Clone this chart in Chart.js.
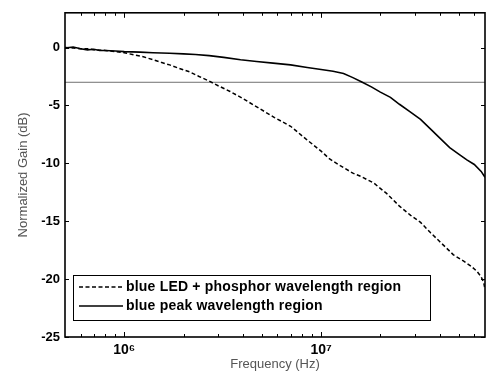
<!DOCTYPE html>
<html>
<head>
    <title>Normalized Gain</title>
    <script src="https://cdn.jsdelivr.net/npm/chart.js"></script>
    <style>
        html, body { margin: 0; padding: 0; background: #fff; }
        #wrap { width: 491px; height: 385px; }
    </style>
</head>
<body>
<div id="wrap"><canvas id="gain-chart" width="491" height="385"></canvas></div>

<script>
// blue LED + phosphor wavelength region (dashed)
const freqDashed = [5.0e5, 5.5e5, 6.0e5, 6.5e5, 7.0e5, 8.0e5, 9.0e5, 1.0e6, 1.1e6, 1.25e6, 1.4e6, 1.55e6, 1.7e6, 1.9e6,
    2.15e6, 2.4e6, 2.7e6, 3.0e6, 3.45e6, 4.0e6, 4.9e6, 5.8e6, 7.0e6, 8.3e6, 1.0e7, 1.1e7, 1.25e7, 1.45e7, 1.6e7,
    1.85e7, 2.15e7, 2.5e7, 2.85e7, 3.2e7, 3.6e7, 4.0e7, 4.7e7, 5.3e7, 5.8e7, 6.2e7, 6.5e7, 6.7e7, 6.8e7];
const gainDashed = [0.0, -0.05, -0.1, -0.1, -0.2, -0.25, -0.35, -0.45, -0.6, -0.8, -1.05, -1.3, -1.5, -1.8,
    -2.1, -2.5, -2.9, -3.3, -3.8, -4.4, -5.3, -6.05, -6.8, -7.85, -8.95, -9.6, -10.2, -10.85, -11.15,
    -11.7, -12.6, -13.7, -14.5, -15.1, -16.0, -16.75, -17.9, -18.45, -18.9, -19.35, -19.8, -20.3, -20.9];

// blue peak wavelength region (solid)
const freqSolid = [5.0e5, 5.5e5, 6.0e5, 6.5e5, 7.0e5, 7.5e5, 8.0e5, 9.0e5, 1.0e6, 1.2e6, 1.4e6, 1.7e6, 2.0e6, 2.3e6,
    2.7e6, 3.2e6, 3.9e6, 4.7e6, 5.7e6, 7.0e6, 8.5e6, 1.0e7, 1.15e7, 1.3e7, 1.45e7, 1.6e7, 1.8e7, 2.0e7, 2.25e7,
    2.5e7, 2.8e7, 3.2e7, 3.6e7, 4.0e7, 4.5e7, 5.0e7, 5.5e7, 6.0e7, 6.5e7, 6.8e7];
const gainSolid = [-0.05, 0.05, -0.1, -0.2, -0.15, -0.25, -0.25, -0.3, -0.35, -0.4, -0.45, -0.5, -0.55, -0.6,
    -0.7, -0.85, -1.05, -1.2, -1.35, -1.5, -1.72, -1.9, -2.05, -2.25, -2.6, -2.95, -3.4, -3.85, -4.3,
    -4.9, -5.5, -6.2, -7.05, -7.8, -8.65, -9.2, -9.7, -10.1, -10.7, -11.2];

// -3 dB reference line
const refFreq = [5.0e5, 6.8e7];
const refGain = [-3, -3];

const seriesLabels = ['blue LED + phosphor wavelength region', 'blue peak wavelength region'];
const xTickValues = [6e5, 7e5, 8e5, 9e5, 1e6, 2e6, 3e6, 4e6, 5e6, 6e6, 7e6, 8e6, 9e6, 1e7, 2e7, 3e7, 4e7, 5e7, 6e7];
const xMajorTicks = [1e6, 1e7];
const xLabels = { 1e6: '10\u2076', 1e7: '10\u2077' };
const yTickValues = [-25, -20, -15, -10, -5, 0];

const FONT = "'Liberation Sans', Arial, sans-serif";

function pairs(xs, ys) {
    return xs.map((x, i) => ({ x: x, y: ys[i] }));
}

// box around the plot with inward ticks on all four sides
const framePlugin = {
    id: 'frame',
    afterDraw(chart) {
        const ctx = chart.ctx;
        const a = chart.chartArea;
        const xs = chart.scales.x, ys = chart.scales.y;
        ctx.save();
        ctx.strokeStyle = '#000';
        ctx.lineWidth = 1;
        ctx.beginPath();
        xTickValues.forEach(v => {
            const px = Math.round(xs.getPixelForValue(v)) + 0.5;
            const len = xMajorTicks.includes(v) ? 5 : 3;
            ctx.moveTo(px, a.bottom); ctx.lineTo(px, a.bottom - len);
            ctx.moveTo(px, a.top); ctx.lineTo(px, a.top + len);
        });
        yTickValues.forEach(v => {
            const py = Math.round(ys.getPixelForValue(v)) + 0.5;
            ctx.moveTo(a.left, py); ctx.lineTo(a.left + 4, py);
            ctx.moveTo(a.right, py); ctx.lineTo(a.right - 4, py);
        });
        ctx.stroke();
        ctx.lineWidth = 1.6;
        ctx.strokeRect(a.left, a.top, a.right - a.left, a.bottom - a.top);
        ctx.restore();
    }
};

// legend box in the lower left corner of the plot
const legendPlugin = {
    id: 'boxLegend',
    afterDraw(chart) {
        const ctx = chart.ctx;
        const a = chart.chartArea;
        const left = a.left + 8, top = a.bottom - 62, w = 357, h = 45;
        ctx.save();
        ctx.fillStyle = '#fff';
        ctx.fillRect(left, top, w, h);
        ctx.strokeStyle = '#000';
        ctx.lineWidth = 1;
        ctx.strokeRect(left + 0.5, top + 0.5, w, h);
        ctx.font = 'bold 14px ' + FONT;
        ctx.letterSpacing = '0.2px';
        ctx.textBaseline = 'middle';
        ctx.fillStyle = '#000';
        [0, 1].forEach(i => {
            const ds = chart.data.datasets[i];
            const y = top + 12 + i * 19;
            ctx.setLineDash(ds.borderDash || []);
            ctx.lineWidth = 1.5;
            ctx.beginPath();
            ctx.moveTo(left + 6, y); ctx.lineTo(left + 50, y);
            ctx.stroke();
            ctx.setLineDash([]);
            ctx.fillText(ds.label, left + 53, y);
        });
        ctx.restore();
    }
};

new Chart(document.getElementById('gain-chart'), {
    type: 'line',
    data: {
        datasets: [
            {
                label: seriesLabels[0],
                data: pairs(freqDashed, gainDashed),
                borderColor: '#000',
                borderWidth: 1.5,
                borderDash: [4, 2.5],
                pointRadius: 0,
                tension: 0
            },
            {
                label: seriesLabels[1],
                data: pairs(freqSolid, gainSolid),
                borderColor: '#000',
                borderWidth: 1.6,
                pointRadius: 0,
                tension: 0
            },
            {
                label: '-3 dB',
                data: pairs(refFreq, refGain),
                borderColor: '#707070',
                borderWidth: 1,
                pointRadius: 0
            }
        ]
    },
    options: {
        responsive: false,
        animation: false,
        layout: { padding: { top: 7, right: 6, left: 0, bottom: 0 } },
        plugins: {
            legend: { display: false },
            tooltip: { enabled: false }
        },
        scales: {
            x: {
                type: 'logarithmic',
                min: 5e5,
                max: 6.8e7,
                grid: { display: false, drawTicks: false },
                border: { display: false },
                afterBuildTicks: s => { s.ticks = xTickValues.map(v => ({ value: v })); },
                afterFit: s => { s.height = 48; },
                ticks: {
                    autoSkip: false,
                    maxRotation: 0,
                    padding: 5,
                    color: '#000',
                    font: { family: FONT, size: 14, weight: 'bold' },
                    callback: v => xLabels[v] || ''
                },
                title: {
                    display: true,
                    text: 'Frequency (Hz)',
                    color: '#555',
                    font: { family: FONT, size: 13 },
                    padding: { top: 0, bottom: 13 }
                }
            },
            y: {
                min: -25,
                max: 3,
                grid: { display: false, drawTicks: false },
                border: { display: false },
                afterBuildTicks: s => { s.ticks = yTickValues.map(v => ({ value: v })); },
                afterFit: s => { s.width = 65; },
                ticks: {
                    padding: 5,
                    color: '#000',
                    font: { family: FONT, size: 13, weight: 'bold' }
                },
                title: {
                    display: true,
                    text: 'Normalized Gain (dB)',
                    color: '#555',
                    font: { family: FONT, size: 13 },
                    padding: { top: 16, bottom: 0 }
                }
            }
        }
    },
    plugins: [framePlugin, legendPlugin]
});
</script>
</body>
</html>
